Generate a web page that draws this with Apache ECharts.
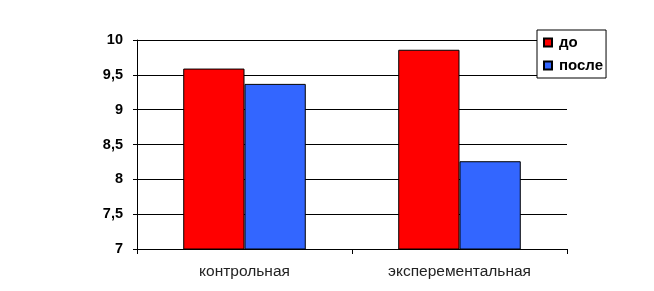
<!DOCTYPE html>
<html><head><meta charset="utf-8">
<script src="https://cdn.jsdelivr.net/npm/echarts@6/dist/echarts.min.js"></script>
<style>html,body{margin:0;padding:0;background:#fff}#c{width:654px;height:291px}</style>
</head><body><div id="c"></div>
<script>
var categories = ['контрольная', 'эксперементальная'];
var seriesNames = ['до', 'после'];
var before = [9.59, 9.86];
var after = [9.37, 8.26];
var colors = ['#ff0000', '#3366ff'];

var chart = echarts.init(document.getElementById('c'), null, {renderer: 'canvas'});
chart.setOption({
  animation: false,
  backgroundColor: '#ffffff',
  textStyle: {fontFamily: 'Liberation Sans, Arial, sans-serif'},
  grid: {left: 137, right: 87, top: 40, bottom: 42},
  legend: {
    orient: 'vertical', left: 537, top: 30,
    backgroundColor: '#ffffff', borderColor: '#000', borderWidth: 1, borderRadius: 0,
    padding: [5, 3, 5, 6], itemGap: 8, itemWidth: 8, itemHeight: 8, icon: 'rect',
    textStyle: {fontSize: 15, fontWeight: 'bold', color: '#000', padding: [0, 0, 0, 2]},
    data: seriesNames
  },
  xAxis: {
    type: 'category', data: categories,
    axisLine: {lineStyle: {color: '#000', width: 1}},
    axisTick: {show: true, length: 5, lineStyle: {color: '#000'}},
    axisLabel: {fontSize: 15.5, color: '#222', margin: 15}
  },
  yAxis: {
    type: 'value', min: 7, max: 10, interval: 0.5,
    axisLine: {show: true, lineStyle: {color: '#000', width: 1}},
    axisTick: {show: true, length: 4, lineStyle: {color: '#000'}},
    splitLine: {show: true, lineStyle: {color: '#000', width: 1}},
    axisLabel: {fontSize: 14.5, fontWeight: 'bold', color: '#000', margin: 14,
      formatter: function (v) { return String(v).replace('.', ','); }}
  },
  series: [
    {name: seriesNames[0], type: 'bar', data: before, barGap: '0%', barCategoryGap: '43%',
     itemStyle: {color: colors[0], borderColor: '#000', borderWidth: 1}},
    {name: seriesNames[1], type: 'bar', data: after, barGap: '0%', barCategoryGap: '43%',
     itemStyle: {color: colors[1], borderColor: '#000', borderWidth: 1}}
  ]
});
</script></body></html>
